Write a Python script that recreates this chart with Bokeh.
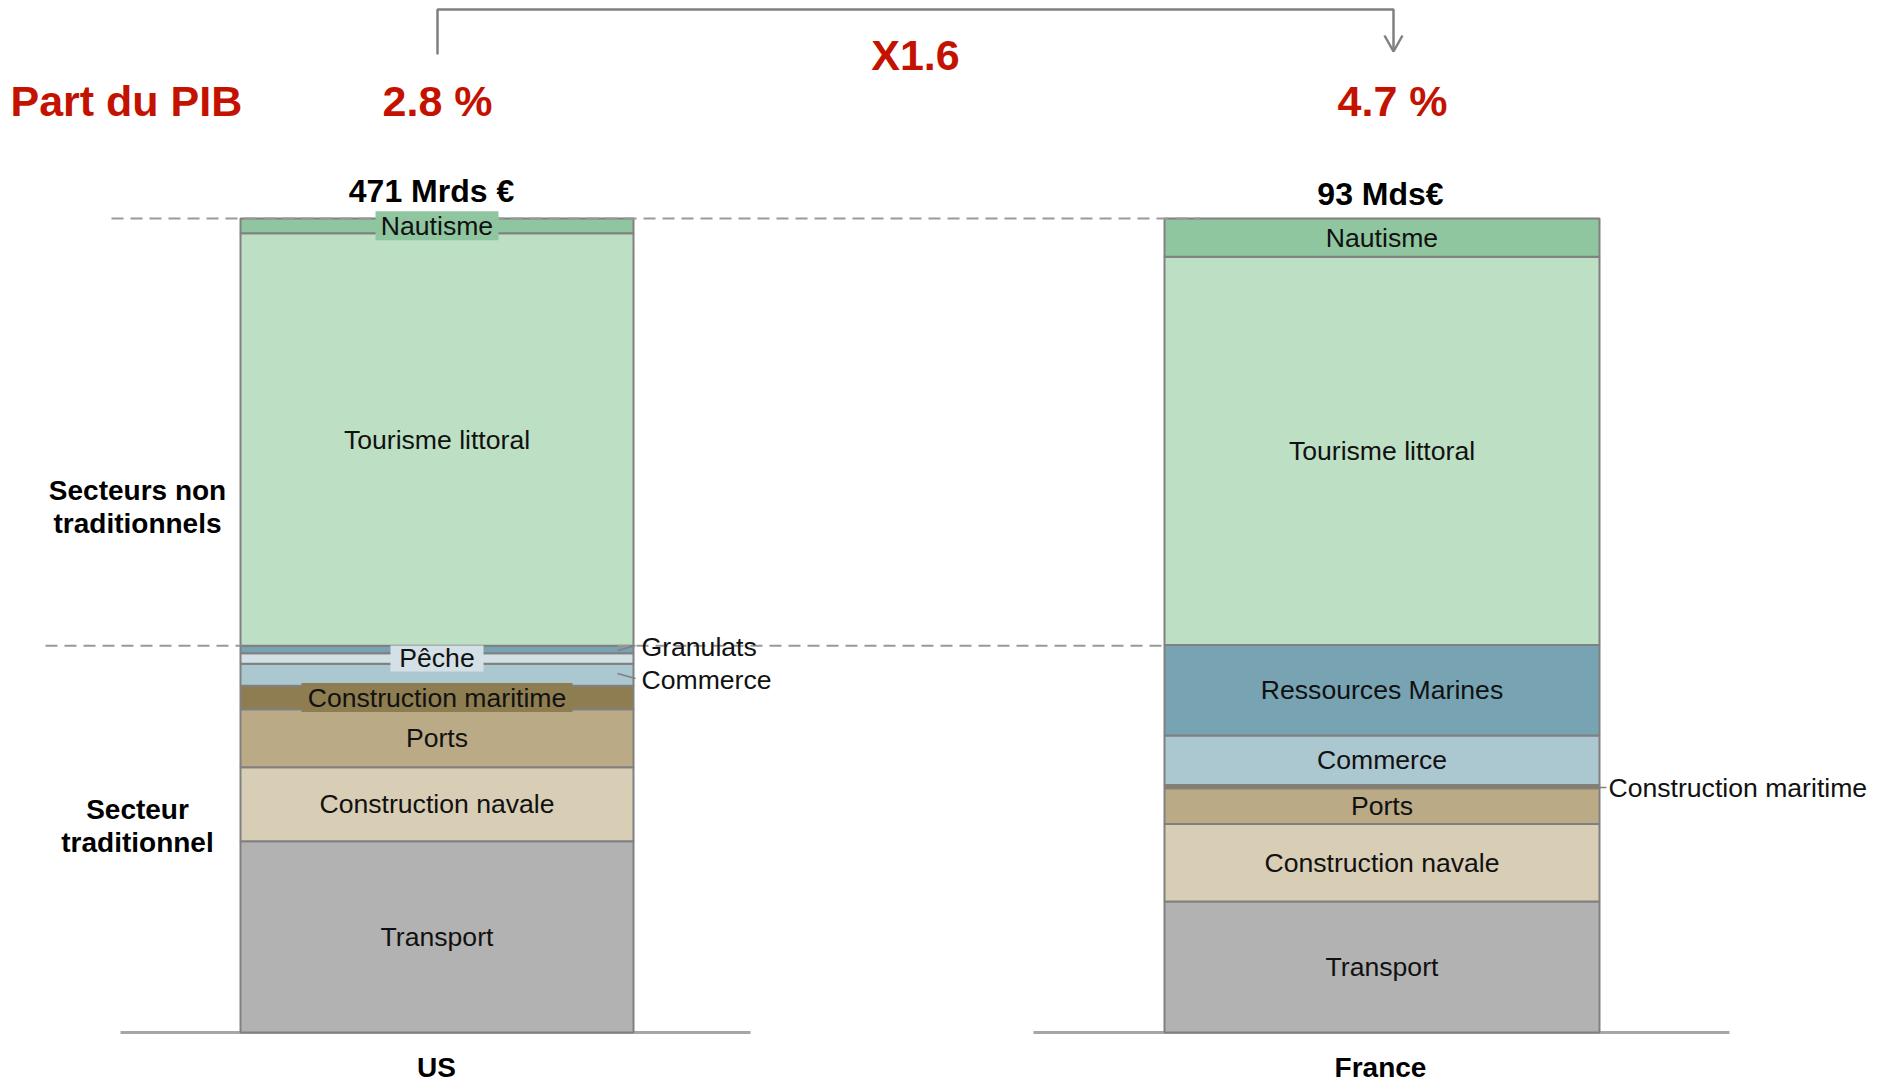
import numpy as np
from bokeh.plotting import figure
from bokeh.models import Range1d
from bokeh.core.properties import value
from bokeh.embed import file_html
from bokeh.resources import INLINE

# ---------------- data ----------------
countries = ["US", "France"]
totals = ["471 Mrds €", "93 Mds€"]
pib_share = ["2.8 %", "4.7 %"]
ratio_label = "X1.6"
pib_title = "Part du PIB"

# stacked from bottom to top, shares of total (%)
us_sectors = ["Transport", "Construction navale", "Ports", "Construction maritime",
              "Commerce", "Pêche", "Granulats", "Tourisme littoral", "Nautisme"]
us_values = [23.5, 9.1, 7.1, 2.9, 2.7, 1.3, 0.9, 50.7, 1.8]

fr_sectors = ["Transport", "Construction navale", "Ports", "Construction maritime",
              "Commerce", "Ressources Marines", "Tourisme littoral", "Nautisme"]
fr_values = [16.1, 9.5, 4.4, 0.4, 6.1, 11.1, 47.7, 4.7]

group_labels = [["Secteurs non", "traditionnels"], ["Secteur", "traditionnel"]]

# ---------------- styles ----------------
colors = {
    "Transport": "#B2B2B2",
    "Construction navale": "#D8CDB5",
    "Ports": "#BAAA85",
    "Construction maritime": "#8E7D50",
    "Commerce": "#ABC7D0",
    "Pêche": "#D3E1E6",
    "Granulats": "#77A3B3",
    "Ressources Marines": "#77A3B3",
    "Tourisme littoral": "#BDDFC4",
    "Nautisme": "#8FC6A0",
}
RED = "#C41200"
GRAY = "#808080"
FONT = value("Liberation Sans")
SEG_FS = "26.6px"

W, H = 1887, 1082
OFF = 0                      # page offset of the canvas
PX_PER_UNIT = 8.14           # pixels per percentage point
BASE_PAGE_Y = 1032           # page y of value 0


def X(page_x):
    return page_x - OFF


def Y(page_y):
    return (BASE_PAGE_Y - page_y) / PX_PER_UNIT


p = figure(width=W, height=H, output_backend="svg", toolbar_location=None,
           x_range=Range1d(0, W), y_range=Range1d(Y(OFF + H), Y(OFF)),
           x_axis_location=None, y_axis_location=None, min_border=0,
           outline_line_color=None, background_fill_color="white")
p.grid.visible = False

bar_centers = [X(436.5), X(1381.5)]
bar_widths = [393, 435]

# baselines
p.line([X(120), X(750)], [0, 0], line_color="#A6A6A6", line_width=3)
p.line([X(1033), X(1729)], [0, 0], line_color="#A6A6A6", line_width=3)

# stacked bars
stacks = {}
for cx, bw, secs, vals in [(bar_centers[0], bar_widths[0], us_sectors, us_values),
                           (bar_centers[1], bar_widths[1], fr_sectors, fr_values)]:
    v = np.array(vals, dtype=float)
    tops = np.cumsum(v)
    bottoms = tops - v
    p.quad(left=[cx - bw / 2] * len(v), right=[cx + bw / 2] * len(v),
           bottom=bottoms, top=tops, fill_color=[colors[s] for s in secs],
           line_color=GRAY, line_width=2)
    stacks[cx] = (secs, bottoms, tops)

us_secs, us_b, us_t = stacks[bar_centers[0]]
fr_secs, fr_b, fr_t = stacks[bar_centers[1]]

# dashed guide lines
dash = dict(line_color="#999999", line_width=2, line_dash="12 7")
top_val = us_t[-1]
p.line([X(111), X(1200)], [top_val, top_val], **dash)
trad_level = us_t[us_secs.index("Granulats")]
p.line([X(45), bar_centers[0] - bar_widths[0] / 2], [trad_level, trad_level], **dash)
p.line([bar_centers[0] + bar_widths[0] / 2 - 16, bar_centers[1] - bar_widths[1] / 2],
       [trad_level, trad_level], **dash)

# label boxes for thin US segments
boxed = {"Nautisme": (123, 29), "Pêche": (93, 26), "Construction maritime": (271, 29)}
for s, (bw, bh) in boxed.items():
    i = us_secs.index(s)
    p.rect(x=[bar_centers[0]], y=[(us_b[i] + us_t[i]) / 2], width=bw, height=bh,
           width_units="screen", height_units="screen",
           fill_color=colors[s], line_color=None)

# in-bar labels
lab_x, lab_y, lab_t = [], [], []
for cx, secs, b, t, skip in [(bar_centers[0], us_secs, us_b, us_t, {"Granulats", "Commerce"}),
                              (bar_centers[1], fr_secs, fr_b, fr_t, {"Construction maritime"})]:
    for s, bb, tt in zip(secs, b, t):
        if s in skip:
            continue
        lab_x.append(cx)
        lab_y.append((bb + tt) / 2)
        lab_t.append(s)
p.text(x=lab_x, y=lab_y, text=lab_t, text_font=FONT, text_font_size=SEG_FS,
       text_align="center", text_baseline="middle", text_color="#111111")

# call-outs
lead = dict(line_color=GRAY, line_width=1.5)
us_right = bar_centers[0] + bar_widths[0] / 2
fr_right = bar_centers[1] + bar_widths[1] / 2
p.line([us_right - 16, X(635)], [Y(650), Y(645)], **lead)
p.line([us_right - 16, X(635)], [Y(673), Y(678)], **lead)
p.line([fr_right, X(1606)], [Y(787), Y(787)], **lead)
p.text(x=[X(641), X(641), X(1608)], y=[Y(646), Y(679), Y(787)],
       text=["Granulats", "Commerce", "Construction maritime"],
       text_font=FONT, text_font_size=SEG_FS, text_align="left",
       text_baseline="middle", text_color="#111111")

# group labels (left)
p.text(x=[X(137)] * 4, y=[Y(490), Y(523), Y(809), Y(842)],
       text=group_labels[0] + group_labels[1], text_font=FONT,
       text_font_size="28px", text_font_style="bold", text_align="center",
       text_baseline="middle", text_color="black")

# totals above bars
p.text(x=[X(431), X(1380)], y=[Y(190), Y(193)], text=totals, text_font=FONT,
       text_font_size="32px", text_font_style="bold", text_align="center",
       text_baseline="middle", text_color="black")

# country labels
p.text(x=[X(436), X(1380)], y=[Y(1067), Y(1067)], text=countries, text_font=FONT,
       text_font_size="28px", text_font_style="bold", text_align="center",
       text_baseline="middle", text_color="black")

# GDP share row
p.text(x=[X(10)], y=[Y(100)], text=[pib_title], text_font=FONT,
       text_font_size="43px", text_font_style="bold", text_align="left",
       text_baseline="middle", text_color=RED)
p.text(x=[X(437), X(1392)], y=[Y(100), Y(100)], text=pib_share, text_font=FONT,
       text_font_size="43px", text_font_style="bold", text_align="center",
       text_baseline="middle", text_color=RED)
p.text(x=[X(915)], y=[Y(54)], text=[ratio_label], text_font=FONT,
       text_font_size="43px", text_font_style="bold", text_align="center",
       text_baseline="middle", text_color=RED)

# bracket with arrow
p.line([X(437), X(437), X(1393), X(1393)], [Y(54), Y(9), Y(9), Y(50)],
       line_color=GRAY, line_width=2.5)
p.line([X(1384), X(1393), X(1402)], [Y(35), Y(51), Y(35)],
       line_color=GRAY, line_width=2.5)

open("out.html", "w").write(file_html(p, INLINE))
